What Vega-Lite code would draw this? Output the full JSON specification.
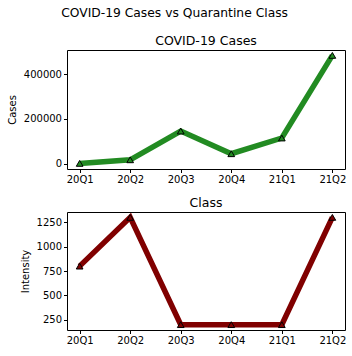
{
  "$schema": "https://vega.github.io/schema/vega-lite/v6.json",
  "background": "white",
  "padding": {"left": 6, "top": 7, "right": 6, "bottom": 4},
  "title": {"text": "COVID-19 Cases vs Quarantine Class", "fontSize": 12.3, "font": "DejaVu Sans", "fontWeight": "normal", "anchor": "middle", "color": "black", "offset": 15, "dx": -2},
  "datasets": {
    "d": [
      {"quarter": "20Q1", "cases": 2000, "intensity": 800},
      {"quarter": "20Q2", "cases": 18000, "intensity": 1300},
      {"quarter": "20Q3", "cases": 146000, "intensity": 200},
      {"quarter": "20Q4", "cases": 45000, "intensity": 200},
      {"quarter": "21Q1", "cases": 115000, "intensity": 200},
      {"quarter": "21Q2", "cases": 483000, "intensity": 1300}
    ]
  },
  "config": {
    "font": "DejaVu Sans",
    "view": {"stroke": "black", "strokeWidth": 1},
    "axis": {"grid": false, "domain": false, "tickColor": "black", "tickSize": 3.5, "labelFontSize": 10, "labelColor": "black", "titleFontSize": 10, "titleFontWeight": "normal", "titleColor": "black", "labelPadding": 2, "labelFont": "DejaVu Sans", "titleFont": "DejaVu Sans"},
    "title": {"fontSize": 12.5, "fontWeight": "normal", "font": "DejaVu Sans", "color": "black", "offset": -3}
  },
  "spacing": 11,
  "vconcat": [
    {
      "title": "COVID-19 Cases",
      "width": 278,
      "height": 119,
      "data": {"name": "d"},
      "encoding": {
        "x": {"field": "quarter", "type": "ordinal", "scale": {"type": "point", "padding": 0.25}, "axis": {"title": null, "labelAngle": 0}},
        "y": {"field": "cases", "type": "quantitative", "scale": {"domain": [-23000, 507000], "nice": false, "zero": false}, "axis": {"title": "Cases", "values": [0, 200000, 400000], "format": "d", "titlePadding": 6}}
      },
      "layer": [
        {"mark": {"type": "line", "color": "#228B22", "strokeWidth": 5.5}},
        {"mark": {"type": "point", "shape": "triangle-up", "filled": true, "color": "#228B22", "stroke": "black", "strokeWidth": 1, "size": 45, "opacity": 1}}
      ]
    },
    {
      "title": "Class",
      "width": 278,
      "height": 118,
      "data": {"name": "d"},
      "encoding": {
        "x": {"field": "quarter", "type": "ordinal", "scale": {"type": "point", "padding": 0.25}, "axis": {"title": null, "labelAngle": 0}},
        "y": {"field": "intensity", "type": "quantitative", "scale": {"domain": [145, 1355], "nice": false, "zero": false}, "axis": {"title": "Intensity", "values": [250, 500, 750, 1000, 1250], "format": "d", "titlePadding": 6}}
      },
      "layer": [
        {"mark": {"type": "line", "color": "#800000", "strokeWidth": 5.5}},
        {"mark": {"type": "point", "shape": "triangle-up", "filled": true, "color": "#800000", "stroke": "black", "strokeWidth": 1, "size": 45, "opacity": 1}}
      ]
    }
  ]
}
